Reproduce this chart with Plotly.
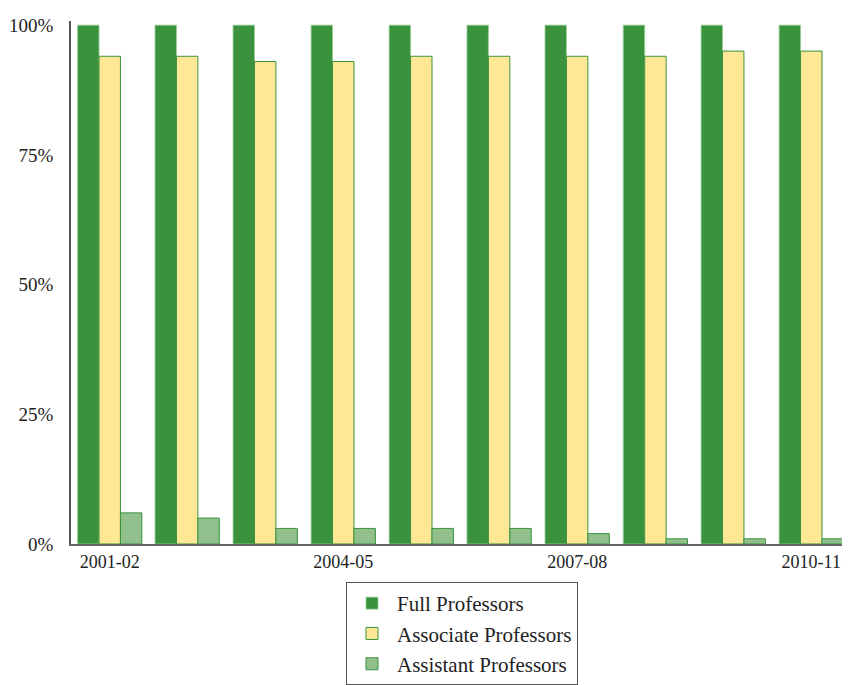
import plotly.graph_objects as go

years = ["2001-02", "2002-03", "2003-04", "2004-05", "2005-06",
         "2006-07", "2007-08", "2008-09", "2009-10", "2010-11"]
full_prof = [100, 100, 100, 100, 100, 100, 100, 100, 100, 100]
assoc_prof = [94, 94, 93, 93, 94, 94, 94, 94, 95, 95]
asst_prof = [6, 5, 3, 3, 3, 3, 2, 1, 1, 1]
series_names = ["Full Professors", "Associate Professors", "Assistant Professors"]
y_tick_vals = [0, 25, 50, 75, 100]
y_tick_text = ["0%", "25%", "50%", "75%", "100%"]
x_tick_vals = ["2001-02", "2004-05", "2007-08", "2010-11"]

FONT = "Palatino Linotype, Book Antiqua, Palatino, Liberation Serif, serif"

fig = go.Figure()
fig.add_trace(go.Bar(x=years, y=full_prof, name=series_names[0], legendgroup="a",
                     marker=dict(color="#3a923c", line=dict(color="rgba(150,205,150,0.8)", width=1))))
fig.add_trace(go.Bar(x=years, y=assoc_prof, name=series_names[1], legendgroup="b",
                     marker=dict(color="#fee795", line=dict(color="#3a923c", width=1))))
fig.add_trace(go.Bar(x=years, y=asst_prof, name=series_names[2], legendgroup="c",
                     marker=dict(color="#92c08d", line=dict(color="#3a923c", width=1))))

fig.update_layout(
    width=842, height=677,
    margin=dict(l=63, r=0, t=13, b=140),
    paper_bgcolor="white", plot_bgcolor="white",
    barmode="group", bargap=0.17, bargroupgap=0,
    font=dict(family=FONT, size=18, color="#222"),
    showlegend=True,
    legend=dict(x=0.353, y=-0.0725, xanchor="left", yanchor="top",
                bordercolor="#555", borderwidth=1, bgcolor="white",
                font=dict(family=FONT, size=21, color="#222"),
                tracegroupgap=7, traceorder="normal", itemwidth=40),
    xaxis=dict(tickmode="array", tickvals=x_tick_vals, ticktext=x_tick_vals,
               showline=True, linecolor="#666", linewidth=2, ticks="",
               showgrid=False, zeroline=False, fixedrange=True,
               tickfont=dict(family=FONT, size=18)),
    yaxis=dict(range=[0, 100.8], tickmode="array", tickvals=y_tick_vals, ticktext=y_tick_text,
               showline=True, linecolor="#555", linewidth=1.5, ticks="",
               showgrid=False, zeroline=False, ticklabelstandoff=12,
               tickfont=dict(family=FONT, size=19)),
)

fig.write_html("out.html")
